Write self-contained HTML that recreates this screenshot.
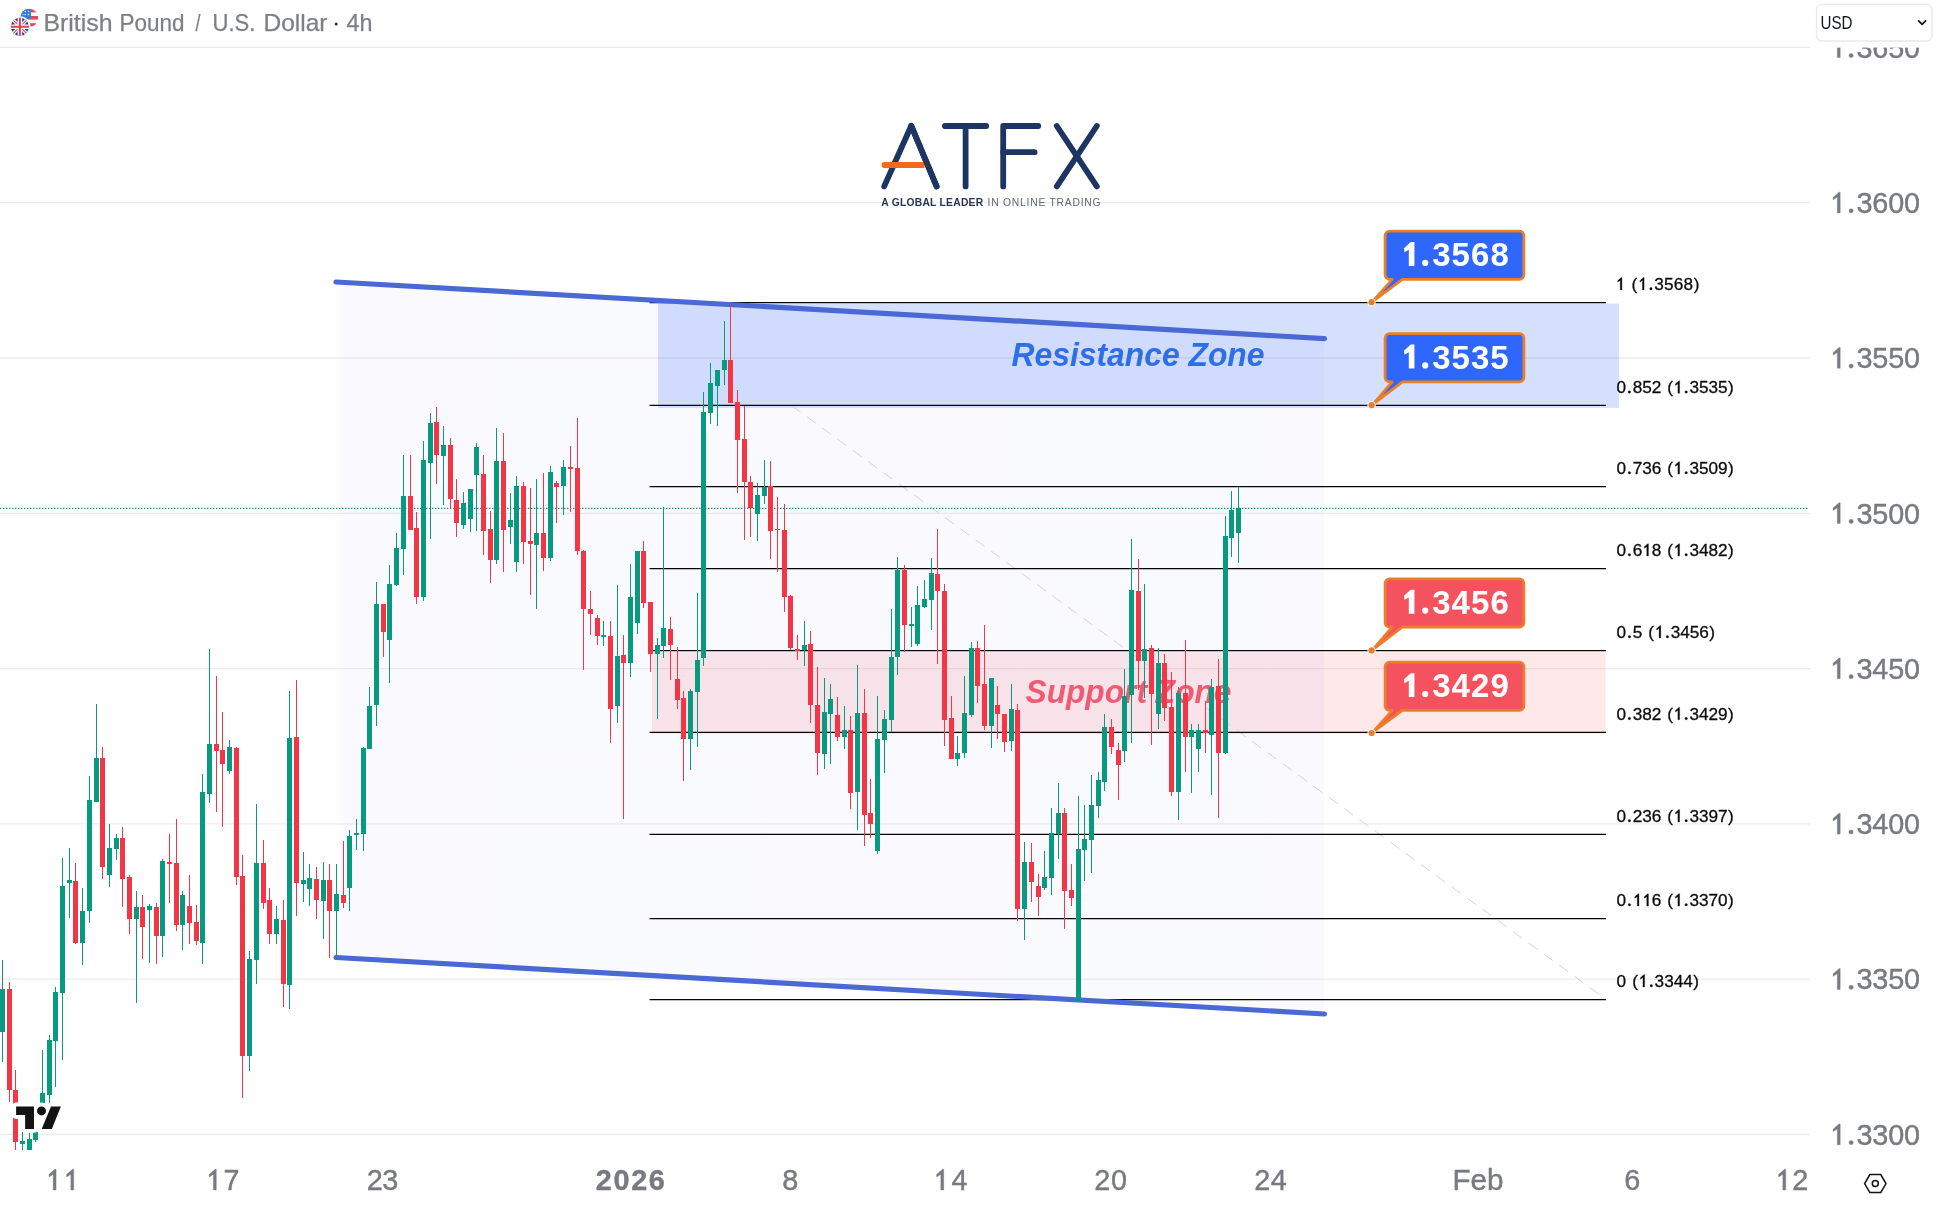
<!DOCTYPE html>
<html><head><meta charset="utf-8"><title>GBPUSD 4h</title>
<style>html,body{margin:0;padding:0;background:#fff;}body{width:1939px;height:1216px;overflow:hidden;font-family:'Liberation Sans', sans-serif;}svg{display:block;will-change:transform;}text{font-family:'Liberation Sans', sans-serif;}</style>
</head><body>
<svg width="1939" height="1216" viewBox="0 0 1939 1216">
<rect x="0" y="0" width="1939" height="1216" fill="#ffffff"/>
<g stroke="#ececec" stroke-width="1.3" fill="none">
<line x1="0" y1="47.4" x2="1810" y2="47.4"/>
<line x1="0" y1="202.7" x2="1810" y2="202.7"/>
<line x1="0" y1="358.0" x2="1810" y2="358.0"/>
<line x1="0" y1="513.3" x2="1810" y2="513.3"/>
<line x1="0" y1="668.6" x2="1810" y2="668.6"/>
<line x1="0" y1="823.9" x2="1810" y2="823.9"/>
<line x1="0" y1="979.2" x2="1810" y2="979.2"/>
<line x1="0" y1="1134.5" x2="1810" y2="1134.5"/>
</g>
<defs><linearGradient id="chg" gradientUnits="userSpaceOnUse" x1="334" y1="0" x2="347" y2="0"><stop offset="0" stop-color="#5a64e6" stop-opacity="0"/><stop offset="1" stop-color="#5a64e6" stop-opacity="0.036"/></linearGradient></defs>
<polygon points="334,281.9 1324,338.5 1324,1014 334,957.4" fill="url(#chg)"/>
<rect x="658" y="303.6" width="961" height="104.3" fill="#2962ff" fill-opacity="0.195"/>
<rect x="652" y="652.1" width="953.5" height="81.8" fill="#f23645" fill-opacity="0.113"/>
<line x1="791.5" y1="405.6" x2="1606" y2="999.3" stroke="#d4d4d6" stroke-width="1.0" stroke-dasharray="11 8"/>
<g stroke="#050505" stroke-width="1.25">
<line x1="649.6" y1="302.5" x2="1606" y2="302.5"/>
<line x1="649.6" y1="405.4" x2="1606" y2="405.4"/>
<line x1="649.6" y1="486.5" x2="1606" y2="486.5"/>
<line x1="649.6" y1="568.5" x2="1606" y2="568.5"/>
<line x1="649.6" y1="650.5" x2="1606" y2="650.5"/>
<line x1="649.6" y1="732.3" x2="1606" y2="732.3"/>
<line x1="649.6" y1="834.3" x2="1606" y2="834.3"/>
<line x1="649.6" y1="918.5" x2="1606" y2="918.5"/>
<line x1="649.6" y1="999.5" x2="1606" y2="999.5"/>
</g>
<g stroke="#0c0c0c" stroke-width="0.3" stroke-linejoin="round"><text x="1631.51 1654.37 1664.08 1673.80 1683.52 1693.70" y="289.9" font-size="17.2" fill="#0c0c0c">(3568)</text><path d="M1621.93,277.52 L1621.93,289.90 L1620.23,289.90 L1620.23,280.47 L1617.79,282.09 L1617.67,280.65 L1621.24,277.52Z M1644.10,277.52 L1644.10,289.90 L1642.40,289.90 L1642.40,280.47 L1639.96,282.09 L1639.84,280.65 L1643.42,277.52Z" fill="#0c0c0c"/><circle cx="1650.89" cy="288.64" r="1.26" fill="#0c0c0c"/></g>
<g stroke="#0c0c0c" stroke-width="0.3" stroke-linejoin="round"><text x="1616.56 1632.70 1642.19 1651.68 1667.19 1689.48 1698.97 1708.46 1717.96 1727.94" y="393.2" font-size="17.2" fill="#0c0c0c">0852(3535)</text><path d="M1679.60,380.82 L1679.60,393.20 L1677.90,393.20 L1677.90,383.77 L1675.46,385.39 L1675.34,383.95 L1678.92,380.82Z" fill="#0c0c0c"/><circle cx="1629.41" cy="391.94" r="1.26" fill="#0c0c0c"/><circle cx="1686.19" cy="391.94" r="1.26" fill="#0c0c0c"/></g>
<g stroke="#0c0c0c" stroke-width="0.3" stroke-linejoin="round"><text x="1616.56 1632.70 1642.19 1651.68 1667.19 1689.48 1698.97 1708.46 1717.96 1727.94" y="474.1" font-size="17.2" fill="#0c0c0c">0736(3509)</text><path d="M1679.60,461.72 L1679.60,474.10 L1677.90,474.10 L1677.90,464.67 L1675.46,466.29 L1675.34,464.85 L1678.92,461.72Z" fill="#0c0c0c"/><circle cx="1629.41" cy="472.84" r="1.26" fill="#0c0c0c"/><circle cx="1686.19" cy="472.84" r="1.26" fill="#0c0c0c"/></g>
<g stroke="#0c0c0c" stroke-width="0.3" stroke-linejoin="round"><text x="1616.56 1632.70 1651.68 1667.19 1689.48 1698.97 1708.46 1717.96 1727.94" y="556.1" font-size="17.2" fill="#0c0c0c">068(3482)</text><path d="M1648.45,543.72 L1648.45,556.10 L1646.75,556.10 L1646.75,546.67 L1644.31,548.29 L1644.19,546.85 L1647.77,543.72Z M1679.60,543.72 L1679.60,556.10 L1677.90,556.10 L1677.90,546.67 L1675.46,548.29 L1675.34,546.85 L1678.92,543.72Z" fill="#0c0c0c"/><circle cx="1629.41" cy="554.84" r="1.26" fill="#0c0c0c"/><circle cx="1686.19" cy="554.84" r="1.26" fill="#0c0c0c"/></g>
<g stroke="#0c0c0c" stroke-width="0.3" stroke-linejoin="round"><text x="1616.58 1632.79 1648.35 1670.74 1680.27 1689.80 1699.33 1709.35" y="637.9" font-size="17.2" fill="#0c0c0c">05(3456)</text><path d="M1660.80,625.52 L1660.80,637.90 L1659.09,637.90 L1659.09,628.47 L1656.65,630.09 L1656.53,628.65 L1660.11,625.52Z" fill="#0c0c0c"/><circle cx="1629.47" cy="636.64" r="1.26" fill="#0c0c0c"/><circle cx="1667.42" cy="636.64" r="1.26" fill="#0c0c0c"/></g>
<g stroke="#0c0c0c" stroke-width="0.3" stroke-linejoin="round"><text x="1616.56 1632.70 1642.19 1651.68 1667.19 1689.48 1698.97 1708.46 1717.96 1727.94" y="719.8" font-size="17.2" fill="#0c0c0c">0382(3429)</text><path d="M1679.60,707.42 L1679.60,719.80 L1677.90,719.80 L1677.90,710.37 L1675.46,711.99 L1675.34,710.55 L1678.92,707.42Z" fill="#0c0c0c"/><circle cx="1629.41" cy="718.54" r="1.26" fill="#0c0c0c"/><circle cx="1686.19" cy="718.54" r="1.26" fill="#0c0c0c"/></g>
<g stroke="#0c0c0c" stroke-width="0.3" stroke-linejoin="round"><text x="1616.56 1632.70 1642.19 1651.68 1667.19 1689.48 1698.97 1708.46 1717.96 1727.94" y="821.9" font-size="17.2" fill="#0c0c0c">0236(3397)</text><path d="M1679.60,809.52 L1679.60,821.90 L1677.90,821.90 L1677.90,812.47 L1675.46,814.09 L1675.34,812.65 L1678.92,809.52Z" fill="#0c0c0c"/><circle cx="1629.41" cy="820.64" r="1.26" fill="#0c0c0c"/><circle cx="1686.19" cy="820.64" r="1.26" fill="#0c0c0c"/></g>
<g stroke="#0c0c0c" stroke-width="0.3" stroke-linejoin="round"><text x="1616.56 1651.68 1667.19 1689.48 1698.97 1708.46 1717.96 1727.94" y="906.1" font-size="17.2" fill="#0c0c0c">06(3370)</text><path d="M1638.96,893.72 L1638.96,906.10 L1637.26,906.10 L1637.26,896.67 L1634.82,898.29 L1634.70,896.85 L1638.27,893.72Z M1648.45,893.72 L1648.45,906.10 L1646.75,906.10 L1646.75,896.67 L1644.31,898.29 L1644.19,896.85 L1647.77,893.72Z M1679.60,893.72 L1679.60,906.10 L1677.90,906.10 L1677.90,896.67 L1675.46,898.29 L1675.34,896.85 L1678.92,893.72Z" fill="#0c0c0c"/><circle cx="1629.41" cy="904.84" r="1.26" fill="#0c0c0c"/><circle cx="1686.19" cy="904.84" r="1.26" fill="#0c0c0c"/></g>
<g stroke="#0c0c0c" stroke-width="0.3" stroke-linejoin="round"><text x="1616.59 1632.19 1654.62 1664.17 1673.72 1683.27 1693.31" y="987.0" font-size="17.2" fill="#0c0c0c">0(3344)</text><path d="M1644.65,974.62 L1644.65,987.00 L1642.94,987.00 L1642.94,977.57 L1640.50,979.19 L1640.38,977.75 L1643.96,974.62Z" fill="#0c0c0c"/><circle cx="1651.29" cy="985.74" r="1.26" fill="#0c0c0c"/></g>
<g stroke="#4a69d4" stroke-width="5.2" stroke-linecap="round">
<line x1="336" y1="282" x2="1324.5" y2="338.6"/>
<line x1="336" y1="957.5" x2="1324.5" y2="1014"/>
</g>
<text x="1011.50" y="365.7" font-size="33" fill="#2c6fe9" textLength="253.00" lengthAdjust="spacingAndGlyphs" font-weight="bold" font-style="italic">Resistance Zone</text>
<text x="1025.50" y="702.5" font-size="33" fill="#ee4f68" textLength="206.00" lengthAdjust="spacingAndGlyphs" font-weight="bold" font-style="italic" fill-opacity="0.92">Support Zone</text>
<line x1="0" y1="508.4" x2="1808" y2="508.4" stroke="#2f8a78" stroke-width="1.4" stroke-dasharray="1.4 1.6"/>
<g shape-rendering="crispEdges">
<rect x="2" y="960.2" width="1" height="101.3" fill="#089981"/>
<rect x="0" y="988.9" width="5" height="42.9" fill="#089981"/>
<rect x="9" y="982.3" width="1" height="119.3" fill="#f23645"/>
<rect x="7" y="988.9" width="5" height="100.6" fill="#f23645"/>
<rect x="15" y="1070.2" width="1" height="79.8" fill="#f23645"/>
<rect x="13" y="1089.5" width="5" height="52.0" fill="#f23645"/>
<rect x="22" y="1132.0" width="1" height="17.8" fill="#089981"/>
<rect x="20" y="1141.2" width="5" height="2.3" fill="#089981"/>
<rect x="29" y="1132.0" width="1" height="17.8" fill="#089981"/>
<rect x="27" y="1139.0" width="5" height="10.8" fill="#089981"/>
<rect x="35" y="1132.0" width="1" height="9.5" fill="#089981"/>
<rect x="33" y="1132.0" width="5" height="7.9" fill="#089981"/>
<rect x="42" y="1050.3" width="1" height="81.7" fill="#089981"/>
<rect x="40" y="1092.8" width="5" height="39.2" fill="#089981"/>
<rect x="49" y="1035.1" width="1" height="68.5" fill="#089981"/>
<rect x="47" y="1040.0" width="5" height="54.5" fill="#089981"/>
<rect x="55" y="987.2" width="1" height="99.8" fill="#089981"/>
<rect x="53" y="992.2" width="5" height="48.7" fill="#089981"/>
<rect x="62" y="858.4" width="1" height="201.4" fill="#089981"/>
<rect x="60" y="886.1" width="5" height="106.6" fill="#089981"/>
<rect x="69" y="848.2" width="1" height="69.6" fill="#089981"/>
<rect x="67" y="879.8" width="5" height="3.3" fill="#089981"/>
<rect x="75" y="863.3" width="1" height="80.4" fill="#f23645"/>
<rect x="73" y="881.2" width="5" height="61.8" fill="#f23645"/>
<rect x="82" y="888.1" width="1" height="76.7" fill="#089981"/>
<rect x="80" y="911.2" width="5" height="31.3" fill="#089981"/>
<rect x="89" y="775.9" width="1" height="146.8" fill="#089981"/>
<rect x="87" y="800.2" width="5" height="110.7" fill="#089981"/>
<rect x="96" y="704.2" width="1" height="97.6" fill="#089981"/>
<rect x="94" y="758.1" width="5" height="43.7" fill="#089981"/>
<rect x="102" y="747.1" width="1" height="131.9" fill="#f23645"/>
<rect x="100" y="758.1" width="5" height="108.5" fill="#f23645"/>
<rect x="109" y="824.2" width="1" height="62.7" fill="#089981"/>
<rect x="107" y="848.2" width="5" height="26.7" fill="#089981"/>
<rect x="116" y="834.1" width="1" height="25.6" fill="#089981"/>
<rect x="114" y="838.1" width="5" height="10.4" fill="#089981"/>
<rect x="122" y="827.4" width="1" height="79.3" fill="#f23645"/>
<rect x="120" y="838.1" width="5" height="40.6" fill="#f23645"/>
<rect x="129" y="875.4" width="1" height="58.4" fill="#f23645"/>
<rect x="127" y="877.4" width="5" height="41.2" fill="#f23645"/>
<rect x="136" y="891.4" width="1" height="111.5" fill="#089981"/>
<rect x="134" y="907.1" width="5" height="11.5" fill="#089981"/>
<rect x="142" y="895.2" width="1" height="63.5" fill="#f23645"/>
<rect x="140" y="907.1" width="5" height="19.4" fill="#f23645"/>
<rect x="149" y="904.1" width="1" height="58.7" fill="#089981"/>
<rect x="147" y="906.2" width="5" height="3.3" fill="#089981"/>
<rect x="156" y="903.4" width="1" height="60.3" fill="#f23645"/>
<rect x="154" y="907.1" width="5" height="28.5" fill="#f23645"/>
<rect x="162" y="859.2" width="1" height="97.7" fill="#089981"/>
<rect x="160" y="860.9" width="5" height="74.7" fill="#089981"/>
<rect x="169" y="834.1" width="1" height="68.8" fill="#f23645"/>
<rect x="167" y="862.0" width="5" height="1.8" fill="#f23645"/>
<rect x="176" y="819.3" width="1" height="111.4" fill="#f23645"/>
<rect x="174" y="863.3" width="5" height="61.6" fill="#f23645"/>
<rect x="182" y="891.4" width="1" height="58.2" fill="#089981"/>
<rect x="180" y="895.2" width="5" height="29.7" fill="#089981"/>
<rect x="189" y="875.4" width="1" height="68.5" fill="#f23645"/>
<rect x="187" y="906.2" width="5" height="16.5" fill="#f23645"/>
<rect x="196" y="905.1" width="1" height="39.6" fill="#f23645"/>
<rect x="194" y="922.2" width="5" height="18.4" fill="#f23645"/>
<rect x="202" y="774.3" width="1" height="189.4" fill="#089981"/>
<rect x="200" y="792.1" width="5" height="150.8" fill="#089981"/>
<rect x="209" y="648.9" width="1" height="153.9" fill="#089981"/>
<rect x="207" y="744.1" width="5" height="49.7" fill="#089981"/>
<rect x="216" y="676.1" width="1" height="135.6" fill="#f23645"/>
<rect x="214" y="744.1" width="5" height="6.8" fill="#f23645"/>
<rect x="222" y="712.1" width="1" height="114.6" fill="#f23645"/>
<rect x="220" y="750.0" width="5" height="13.9" fill="#f23645"/>
<rect x="229" y="740.1" width="1" height="33.7" fill="#089981"/>
<rect x="227" y="747.1" width="5" height="23.6" fill="#089981"/>
<rect x="236" y="747.1" width="1" height="137.7" fill="#f23645"/>
<rect x="234" y="748.2" width="5" height="128.3" fill="#f23645"/>
<rect x="242" y="855.1" width="1" height="242.7" fill="#f23645"/>
<rect x="240" y="876.2" width="5" height="179.5" fill="#f23645"/>
<rect x="249" y="951.3" width="1" height="119.6" fill="#089981"/>
<rect x="247" y="959.0" width="5" height="96.7" fill="#089981"/>
<rect x="256" y="804.3" width="1" height="179.6" fill="#089981"/>
<rect x="254" y="863.0" width="5" height="96.5" fill="#089981"/>
<rect x="263" y="840.2" width="1" height="68.5" fill="#f23645"/>
<rect x="261" y="863.0" width="5" height="39.9" fill="#f23645"/>
<rect x="269" y="888.1" width="1" height="55.8" fill="#f23645"/>
<rect x="267" y="900.1" width="5" height="33.7" fill="#f23645"/>
<rect x="276" y="906.2" width="1" height="37.7" fill="#089981"/>
<rect x="274" y="919.1" width="5" height="14.7" fill="#089981"/>
<rect x="283" y="900.1" width="1" height="106.9" fill="#f23645"/>
<rect x="281" y="919.9" width="5" height="64.0" fill="#f23645"/>
<rect x="289" y="691.0" width="1" height="317.7" fill="#089981"/>
<rect x="287" y="738.0" width="5" height="247.1" fill="#089981"/>
<rect x="296" y="680.2" width="1" height="235.6" fill="#f23645"/>
<rect x="294" y="737.2" width="5" height="145.6" fill="#f23645"/>
<rect x="303" y="852.1" width="1" height="49.7" fill="#089981"/>
<rect x="301" y="879.8" width="5" height="4.2" fill="#089981"/>
<rect x="309" y="864.2" width="1" height="41.7" fill="#089981"/>
<rect x="307" y="878.2" width="5" height="10.7" fill="#089981"/>
<rect x="316" y="867.1" width="1" height="51.8" fill="#f23645"/>
<rect x="314" y="879.0" width="5" height="20.6" fill="#f23645"/>
<rect x="323" y="862.0" width="1" height="76.7" fill="#089981"/>
<rect x="321" y="879.8" width="5" height="20.7" fill="#089981"/>
<rect x="329" y="864.2" width="1" height="93.7" fill="#f23645"/>
<rect x="327" y="879.8" width="5" height="31.1" fill="#f23645"/>
<rect x="336" y="864.2" width="1" height="90.8" fill="#089981"/>
<rect x="334" y="893.9" width="5" height="17.0" fill="#089981"/>
<rect x="343" y="841.1" width="1" height="66.8" fill="#f23645"/>
<rect x="341" y="895.2" width="5" height="7.4" fill="#f23645"/>
<rect x="349" y="830.0" width="1" height="80.9" fill="#089981"/>
<rect x="347" y="836.1" width="5" height="51.7" fill="#089981"/>
<rect x="356" y="819.3" width="1" height="30.5" fill="#089981"/>
<rect x="354" y="832.8" width="5" height="2.2" fill="#089981"/>
<rect x="363" y="747.0" width="1" height="104.0" fill="#089981"/>
<rect x="361" y="748.0" width="5" height="85.6" fill="#089981"/>
<rect x="369" y="687.3" width="1" height="61.3" fill="#089981"/>
<rect x="367" y="706.2" width="5" height="42.4" fill="#089981"/>
<rect x="376" y="582.1" width="1" height="143.6" fill="#089981"/>
<rect x="374" y="604.3" width="5" height="100.3" fill="#089981"/>
<rect x="383" y="604.3" width="1" height="52.4" fill="#f23645"/>
<rect x="381" y="604.3" width="5" height="27.4" fill="#f23645"/>
<rect x="389" y="565.4" width="1" height="117.4" fill="#089981"/>
<rect x="387" y="584.4" width="5" height="55.3" fill="#089981"/>
<rect x="396" y="533.2" width="1" height="52.6" fill="#089981"/>
<rect x="394" y="548.1" width="5" height="36.6" fill="#089981"/>
<rect x="403" y="455.2" width="1" height="119.3" fill="#089981"/>
<rect x="401" y="496.1" width="5" height="52.6" fill="#089981"/>
<rect x="410" y="455.2" width="1" height="74.7" fill="#f23645"/>
<rect x="408" y="496.1" width="5" height="33.8" fill="#f23645"/>
<rect x="416" y="512.4" width="1" height="91.5" fill="#f23645"/>
<rect x="414" y="528.3" width="5" height="68.2" fill="#f23645"/>
<rect x="423" y="441.2" width="1" height="159.4" fill="#089981"/>
<rect x="421" y="460.1" width="5" height="136.4" fill="#089981"/>
<rect x="430" y="413.1" width="1" height="125.7" fill="#089981"/>
<rect x="428" y="423.0" width="5" height="39.6" fill="#089981"/>
<rect x="436" y="407.0" width="1" height="76.7" fill="#f23645"/>
<rect x="434" y="422.2" width="5" height="32.5" fill="#f23645"/>
<rect x="443" y="426.0" width="1" height="78.7" fill="#089981"/>
<rect x="441" y="445.3" width="5" height="10.4" fill="#089981"/>
<rect x="450" y="438.2" width="1" height="70.9" fill="#f23645"/>
<rect x="448" y="445.3" width="5" height="54.1" fill="#f23645"/>
<rect x="456" y="479.4" width="1" height="58.0" fill="#f23645"/>
<rect x="454" y="500.2" width="5" height="22.3" fill="#f23645"/>
<rect x="463" y="492.3" width="1" height="37.1" fill="#089981"/>
<rect x="461" y="503.2" width="5" height="21.3" fill="#089981"/>
<rect x="470" y="489.0" width="1" height="43.4" fill="#089981"/>
<rect x="468" y="489.0" width="5" height="29.7" fill="#089981"/>
<rect x="476" y="443.1" width="1" height="87.7" fill="#089981"/>
<rect x="474" y="447.3" width="5" height="27.4" fill="#089981"/>
<rect x="483" y="455.2" width="1" height="99.5" fill="#f23645"/>
<rect x="481" y="474.2" width="5" height="56.4" fill="#f23645"/>
<rect x="490" y="511.3" width="1" height="71.3" fill="#f23645"/>
<rect x="488" y="529.1" width="5" height="30.5" fill="#f23645"/>
<rect x="496" y="428.3" width="1" height="135.3" fill="#089981"/>
<rect x="494" y="461.0" width="5" height="98.6" fill="#089981"/>
<rect x="503" y="433.2" width="1" height="138.3" fill="#f23645"/>
<rect x="501" y="461.0" width="5" height="68.8" fill="#f23645"/>
<rect x="510" y="493.1" width="1" height="50.7" fill="#089981"/>
<rect x="508" y="520.4" width="5" height="6.2" fill="#089981"/>
<rect x="516" y="476.1" width="1" height="95.4" fill="#089981"/>
<rect x="514" y="486.2" width="5" height="75.4" fill="#089981"/>
<rect x="523" y="482.1" width="1" height="81.5" fill="#f23645"/>
<rect x="521" y="486.2" width="5" height="55.3" fill="#f23645"/>
<rect x="530" y="488.2" width="1" height="106.3" fill="#f23645"/>
<rect x="528" y="541.0" width="5" height="2.8" fill="#f23645"/>
<rect x="536" y="479.1" width="1" height="129.8" fill="#089981"/>
<rect x="534" y="533.2" width="5" height="11.4" fill="#089981"/>
<rect x="543" y="473.3" width="1" height="97.4" fill="#f23645"/>
<rect x="541" y="533.2" width="5" height="24.6" fill="#f23645"/>
<rect x="550" y="466.2" width="1" height="94.3" fill="#089981"/>
<rect x="548" y="472.0" width="5" height="85.8" fill="#089981"/>
<rect x="556" y="481.1" width="1" height="41.4" fill="#f23645"/>
<rect x="554" y="483.2" width="5" height="3.3" fill="#f23645"/>
<rect x="563" y="460.1" width="1" height="54.5" fill="#089981"/>
<rect x="561" y="467.1" width="5" height="18.6" fill="#089981"/>
<rect x="570" y="446.1" width="1" height="66.3" fill="#f23645"/>
<rect x="568" y="467.1" width="5" height="1.6" fill="#f23645"/>
<rect x="577" y="418.4" width="1" height="136.1" fill="#f23645"/>
<rect x="575" y="468.1" width="5" height="82.5" fill="#f23645"/>
<rect x="583" y="550.0" width="1" height="119.9" fill="#f23645"/>
<rect x="581" y="550.9" width="5" height="58.0" fill="#f23645"/>
<rect x="590" y="591.2" width="1" height="43.3" fill="#f23645"/>
<rect x="588" y="609.2" width="5" height="4.6" fill="#f23645"/>
<rect x="597" y="615.1" width="1" height="29.8" fill="#f23645"/>
<rect x="595" y="618.0" width="5" height="17.8" fill="#f23645"/>
<rect x="603" y="620.9" width="1" height="24.8" fill="#089981"/>
<rect x="601" y="635.0" width="5" height="1.6" fill="#089981"/>
<rect x="610" y="621.3" width="1" height="121.7" fill="#f23645"/>
<rect x="608" y="636.1" width="5" height="72.6" fill="#f23645"/>
<rect x="617" y="585.0" width="1" height="137.7" fill="#089981"/>
<rect x="615" y="656.2" width="5" height="49.5" fill="#089981"/>
<rect x="623" y="635.3" width="1" height="183.5" fill="#f23645"/>
<rect x="621" y="655.1" width="5" height="7.7" fill="#f23645"/>
<rect x="630" y="564.1" width="1" height="112.6" fill="#089981"/>
<rect x="628" y="597.1" width="5" height="65.7" fill="#089981"/>
<rect x="637" y="550.9" width="1" height="83.0" fill="#089981"/>
<rect x="635" y="550.9" width="5" height="71.7" fill="#089981"/>
<rect x="643" y="541.3" width="1" height="66.5" fill="#f23645"/>
<rect x="641" y="550.9" width="5" height="51.6" fill="#f23645"/>
<rect x="650" y="602.0" width="1" height="69.8" fill="#f23645"/>
<rect x="648" y="602.0" width="5" height="51.7" fill="#f23645"/>
<rect x="657" y="638.3" width="1" height="80.7" fill="#089981"/>
<rect x="655" y="645.2" width="5" height="8.5" fill="#089981"/>
<rect x="663" y="507.1" width="1" height="150.7" fill="#089981"/>
<rect x="661" y="628.1" width="5" height="17.6" fill="#089981"/>
<rect x="670" y="616.9" width="1" height="62.8" fill="#f23645"/>
<rect x="668" y="628.9" width="5" height="16.0" fill="#f23645"/>
<rect x="677" y="647.1" width="1" height="61.5" fill="#f23645"/>
<rect x="675" y="679.2" width="5" height="20.3" fill="#f23645"/>
<rect x="683" y="691.3" width="1" height="89.6" fill="#f23645"/>
<rect x="681" y="698.2" width="5" height="40.6" fill="#f23645"/>
<rect x="690" y="689.3" width="1" height="80.3" fill="#089981"/>
<rect x="688" y="690.9" width="5" height="47.9" fill="#089981"/>
<rect x="697" y="592.9" width="1" height="153.6" fill="#089981"/>
<rect x="695" y="660.2" width="5" height="31.5" fill="#089981"/>
<rect x="703" y="392.3" width="1" height="273.6" fill="#089981"/>
<rect x="701" y="412.1" width="5" height="245.7" fill="#089981"/>
<rect x="710" y="363.1" width="1" height="60.6" fill="#089981"/>
<rect x="708" y="383.2" width="5" height="29.7" fill="#089981"/>
<rect x="717" y="370.0" width="1" height="55.8" fill="#089981"/>
<rect x="715" y="370.0" width="5" height="15.7" fill="#089981"/>
<rect x="724" y="321.0" width="1" height="63.9" fill="#089981"/>
<rect x="722" y="360.1" width="5" height="9.9" fill="#089981"/>
<rect x="730" y="304.0" width="1" height="98.7" fill="#f23645"/>
<rect x="728" y="360.1" width="5" height="42.6" fill="#f23645"/>
<rect x="737" y="390.2" width="1" height="102.6" fill="#f23645"/>
<rect x="735" y="402.2" width="5" height="37.6" fill="#f23645"/>
<rect x="744" y="405.5" width="1" height="134.3" fill="#f23645"/>
<rect x="742" y="439.0" width="5" height="42.9" fill="#f23645"/>
<rect x="750" y="476.1" width="1" height="60.7" fill="#f23645"/>
<rect x="748" y="481.9" width="5" height="26.4" fill="#f23645"/>
<rect x="757" y="483.0" width="1" height="58.0" fill="#089981"/>
<rect x="755" y="495.1" width="5" height="18.6" fill="#089981"/>
<rect x="764" y="460.0" width="1" height="43.8" fill="#089981"/>
<rect x="762" y="486.5" width="5" height="9.1" fill="#089981"/>
<rect x="770" y="461.3" width="1" height="97.8" fill="#f23645"/>
<rect x="768" y="486.2" width="5" height="44.5" fill="#f23645"/>
<rect x="777" y="497.2" width="1" height="74.6" fill="#f23645"/>
<rect x="775" y="528.6" width="5" height="1.6" fill="#f23645"/>
<rect x="784" y="504.3" width="1" height="107.3" fill="#f23645"/>
<rect x="782" y="530.2" width="5" height="66.5" fill="#f23645"/>
<rect x="790" y="595.0" width="1" height="54.9" fill="#f23645"/>
<rect x="788" y="596.2" width="5" height="52.0" fill="#f23645"/>
<rect x="797" y="635.0" width="1" height="24.7" fill="#f23645"/>
<rect x="795" y="649.0" width="5" height="1.6" fill="#f23645"/>
<rect x="804" y="621.0" width="1" height="44.8" fill="#089981"/>
<rect x="802" y="645.2" width="5" height="5.0" fill="#089981"/>
<rect x="810" y="631.2" width="1" height="92.2" fill="#f23645"/>
<rect x="808" y="644.1" width="5" height="60.7" fill="#f23645"/>
<rect x="817" y="667.3" width="1" height="107.6" fill="#f23645"/>
<rect x="815" y="705.3" width="5" height="47.5" fill="#f23645"/>
<rect x="824" y="678.1" width="1" height="90.7" fill="#089981"/>
<rect x="822" y="712.2" width="5" height="41.4" fill="#089981"/>
<rect x="830" y="684.2" width="1" height="79.7" fill="#089981"/>
<rect x="828" y="699.0" width="5" height="14.5" fill="#089981"/>
<rect x="837" y="697.0" width="1" height="43.8" fill="#f23645"/>
<rect x="835" y="715.2" width="5" height="21.4" fill="#f23645"/>
<rect x="844" y="706.1" width="1" height="42.6" fill="#089981"/>
<rect x="842" y="730.4" width="5" height="6.2" fill="#089981"/>
<rect x="850" y="716.0" width="1" height="92.8" fill="#f23645"/>
<rect x="848" y="730.4" width="5" height="62.1" fill="#f23645"/>
<rect x="857" y="665.1" width="1" height="164.6" fill="#089981"/>
<rect x="855" y="713.0" width="5" height="78.6" fill="#089981"/>
<rect x="864" y="689.1" width="1" height="156.5" fill="#f23645"/>
<rect x="862" y="713.0" width="5" height="101.6" fill="#f23645"/>
<rect x="870" y="779.2" width="1" height="58.3" fill="#f23645"/>
<rect x="868" y="813.2" width="5" height="10.4" fill="#f23645"/>
<rect x="877" y="696.2" width="1" height="157.6" fill="#089981"/>
<rect x="875" y="739.1" width="5" height="111.9" fill="#089981"/>
<rect x="884" y="710.2" width="1" height="62.7" fill="#089981"/>
<rect x="882" y="719.3" width="5" height="20.6" fill="#089981"/>
<rect x="891" y="609.1" width="1" height="122.9" fill="#089981"/>
<rect x="889" y="657.2" width="5" height="62.4" fill="#089981"/>
<rect x="897" y="557.1" width="1" height="117.7" fill="#089981"/>
<rect x="895" y="570.2" width="5" height="86.3" fill="#089981"/>
<rect x="904" y="565.2" width="1" height="86.3" fill="#f23645"/>
<rect x="902" y="570.2" width="5" height="54.4" fill="#f23645"/>
<rect x="911" y="607.3" width="1" height="39.6" fill="#089981"/>
<rect x="909" y="624.0" width="5" height="1.6" fill="#089981"/>
<rect x="917" y="586.3" width="1" height="59.4" fill="#089981"/>
<rect x="915" y="605.3" width="5" height="38.8" fill="#089981"/>
<rect x="924" y="580.2" width="1" height="27.6" fill="#089981"/>
<rect x="922" y="599.2" width="5" height="7.4" fill="#089981"/>
<rect x="931" y="558.3" width="1" height="71.4" fill="#089981"/>
<rect x="929" y="573.1" width="5" height="26.4" fill="#089981"/>
<rect x="937" y="529.1" width="1" height="134.5" fill="#f23645"/>
<rect x="935" y="574.3" width="5" height="16.5" fill="#f23645"/>
<rect x="944" y="584.2" width="1" height="161.5" fill="#f23645"/>
<rect x="942" y="591.3" width="5" height="128.3" fill="#f23645"/>
<rect x="951" y="696.2" width="1" height="62.4" fill="#f23645"/>
<rect x="949" y="718.2" width="5" height="40.4" fill="#f23645"/>
<rect x="957" y="736.1" width="1" height="29.4" fill="#089981"/>
<rect x="955" y="753.1" width="5" height="5.5" fill="#089981"/>
<rect x="964" y="676.1" width="1" height="81.5" fill="#089981"/>
<rect x="962" y="713.0" width="5" height="39.6" fill="#089981"/>
<rect x="971" y="642.1" width="1" height="75.2" fill="#089981"/>
<rect x="969" y="648.2" width="5" height="66.5" fill="#089981"/>
<rect x="977" y="641.3" width="1" height="61.5" fill="#f23645"/>
<rect x="975" y="648.2" width="5" height="37.3" fill="#f23645"/>
<rect x="984" y="625.1" width="1" height="104.6" fill="#f23645"/>
<rect x="982" y="684.3" width="5" height="41.6" fill="#f23645"/>
<rect x="991" y="678.1" width="1" height="69.6" fill="#089981"/>
<rect x="989" y="678.1" width="5" height="47.8" fill="#089981"/>
<rect x="997" y="686.0" width="1" height="52.8" fill="#f23645"/>
<rect x="995" y="705.3" width="5" height="8.2" fill="#f23645"/>
<rect x="1004" y="714.0" width="1" height="37.8" fill="#f23645"/>
<rect x="1002" y="714.0" width="5" height="27.6" fill="#f23645"/>
<rect x="1011" y="684.2" width="1" height="66.5" fill="#089981"/>
<rect x="1009" y="709.1" width="5" height="31.7" fill="#089981"/>
<rect x="1017" y="704.1" width="1" height="216.7" fill="#f23645"/>
<rect x="1015" y="710.2" width="5" height="198.5" fill="#f23645"/>
<rect x="1024" y="842.2" width="1" height="97.5" fill="#089981"/>
<rect x="1022" y="862.0" width="5" height="46.7" fill="#089981"/>
<rect x="1031" y="843.2" width="1" height="58.6" fill="#f23645"/>
<rect x="1029" y="862.0" width="5" height="19.8" fill="#f23645"/>
<rect x="1038" y="874.1" width="1" height="41.7" fill="#f23645"/>
<rect x="1036" y="886.1" width="5" height="10.6" fill="#f23645"/>
<rect x="1044" y="851.0" width="1" height="38.7" fill="#089981"/>
<rect x="1042" y="877.0" width="5" height="10.8" fill="#089981"/>
<rect x="1051" y="808.1" width="1" height="86.6" fill="#089981"/>
<rect x="1049" y="833.1" width="5" height="44.6" fill="#089981"/>
<rect x="1058" y="783.3" width="1" height="75.6" fill="#089981"/>
<rect x="1056" y="813.0" width="5" height="21.1" fill="#089981"/>
<rect x="1064" y="808.1" width="1" height="120.4" fill="#f23645"/>
<rect x="1062" y="813.0" width="5" height="77.6" fill="#f23645"/>
<rect x="1071" y="864.2" width="1" height="41.5" fill="#f23645"/>
<rect x="1069" y="890.1" width="5" height="7.6" fill="#f23645"/>
<rect x="1078" y="796.2" width="1" height="205.3" fill="#089981"/>
<rect x="1076" y="849.3" width="5" height="152.2" fill="#089981"/>
<rect x="1084" y="805.1" width="1" height="75.6" fill="#089981"/>
<rect x="1082" y="839.1" width="5" height="10.5" fill="#089981"/>
<rect x="1091" y="775.4" width="1" height="97.3" fill="#089981"/>
<rect x="1089" y="805.1" width="5" height="34.6" fill="#089981"/>
<rect x="1098" y="772.1" width="1" height="45.7" fill="#089981"/>
<rect x="1096" y="780.4" width="5" height="25.2" fill="#089981"/>
<rect x="1104" y="714.0" width="1" height="76.8" fill="#089981"/>
<rect x="1102" y="727.1" width="5" height="54.6" fill="#089981"/>
<rect x="1111" y="719.3" width="1" height="34.3" fill="#f23645"/>
<rect x="1109" y="727.1" width="5" height="19.8" fill="#f23645"/>
<rect x="1118" y="743.2" width="1" height="56.6" fill="#f23645"/>
<rect x="1116" y="750.2" width="5" height="14.5" fill="#f23645"/>
<rect x="1124" y="669.0" width="1" height="92.9" fill="#089981"/>
<rect x="1122" y="696.2" width="5" height="54.5" fill="#089981"/>
<rect x="1131" y="539.3" width="1" height="203.4" fill="#089981"/>
<rect x="1129" y="590.1" width="5" height="105.3" fill="#089981"/>
<rect x="1138" y="559.1" width="1" height="130.5" fill="#f23645"/>
<rect x="1136" y="591.3" width="5" height="69.4" fill="#f23645"/>
<rect x="1144" y="584.2" width="1" height="113.7" fill="#089981"/>
<rect x="1142" y="649.0" width="5" height="11.7" fill="#089981"/>
<rect x="1151" y="645.2" width="1" height="99.7" fill="#f23645"/>
<rect x="1149" y="648.2" width="5" height="45.5" fill="#f23645"/>
<rect x="1158" y="648.2" width="1" height="80.7" fill="#089981"/>
<rect x="1156" y="663.2" width="5" height="50.3" fill="#089981"/>
<rect x="1164" y="654.1" width="1" height="66.9" fill="#f23645"/>
<rect x="1162" y="663.2" width="5" height="44.6" fill="#f23645"/>
<rect x="1171" y="672.3" width="1" height="123.7" fill="#f23645"/>
<rect x="1169" y="707.3" width="5" height="84.3" fill="#f23645"/>
<rect x="1178" y="687.1" width="1" height="132.5" fill="#089981"/>
<rect x="1176" y="693.2" width="5" height="98.4" fill="#089981"/>
<rect x="1185" y="640.0" width="1" height="131.8" fill="#f23645"/>
<rect x="1183" y="693.2" width="5" height="43.4" fill="#f23645"/>
<rect x="1191" y="724.3" width="1" height="68.4" fill="#089981"/>
<rect x="1189" y="730.0" width="5" height="6.6" fill="#089981"/>
<rect x="1198" y="724.3" width="1" height="47.5" fill="#089981"/>
<rect x="1196" y="730.0" width="5" height="18.7" fill="#089981"/>
<rect x="1205" y="701.2" width="1" height="51.4" fill="#f23645"/>
<rect x="1203" y="730.4" width="5" height="2.9" fill="#f23645"/>
<rect x="1211" y="679.4" width="1" height="115.5" fill="#089981"/>
<rect x="1209" y="687.1" width="5" height="47.6" fill="#089981"/>
<rect x="1218" y="659.1" width="1" height="158.9" fill="#f23645"/>
<rect x="1216" y="686.3" width="5" height="66.3" fill="#f23645"/>
<rect x="1225" y="516.2" width="1" height="237.8" fill="#089981"/>
<rect x="1223" y="536.0" width="5" height="217.1" fill="#089981"/>
<rect x="1231" y="491.1" width="1" height="65.5" fill="#089981"/>
<rect x="1229" y="510.1" width="5" height="27.6" fill="#089981"/>
<rect x="1238" y="487.0" width="1" height="75.7" fill="#089981"/>
<rect x="1236" y="508.3" width="5" height="24.4" fill="#089981"/>
</g>
<path d="M1389.6,231.1 H1519.4 A4.5,4.5 0 0 1 1523.9,235.6 V274.8 A4.5,4.5 0 0 1 1519.4,279.3 H1402.4 L1372.8,301.4 L1392.2,279.3 H1389.6 A4.5,4.5 0 0 1 1385.1,274.8 V235.6 A4.5,4.5 0 0 1 1389.6,231.1 Z" fill="#2f66fb" stroke="#ec7e2a" stroke-width="2.8" stroke-linejoin="round"/>
<circle cx="1371.6" cy="302.2" r="4.2" fill="#ffffff" fill-opacity="0.85"/>
<circle cx="1371.6" cy="302.2" r="3.1" fill="#ec7e2a"/>
<text x="1432.16 1451.57 1470.99 1490.40" y="266.0" font-size="33" fill="#ffffff" font-weight="bold">3568</text><path d="M1414.42,242.11 L1414.42,266.00 L1408.81,266.00 L1408.81,249.70 L1404.49,252.17 L1404.03,248.15 L1410.69,242.11Z" fill="#ffffff"/><circle cx="1425.22" cy="262.90" r="3.10" fill="#ffffff"/>
<path d="M1389.6,333.6 H1519.4 A4.5,4.5 0 0 1 1523.9,338.1 V377.3 A4.5,4.5 0 0 1 1519.4,381.8 H1402.4 L1372.8,404.4 L1392.2,381.8 H1389.6 A4.5,4.5 0 0 1 1385.1,377.3 V338.1 A4.5,4.5 0 0 1 1389.6,333.6 Z" fill="#2f66fb" stroke="#ec7e2a" stroke-width="2.8" stroke-linejoin="round"/>
<circle cx="1371.6" cy="405.2" r="4.2" fill="#ffffff" fill-opacity="0.85"/>
<circle cx="1371.6" cy="405.2" r="3.1" fill="#ec7e2a"/>
<text x="1432.13 1451.54 1470.94 1490.35" y="368.5" font-size="33" fill="#ffffff" font-weight="bold">3535</text><path d="M1414.41,344.61 L1414.41,368.50 L1408.80,368.50 L1408.80,352.20 L1404.48,354.67 L1404.02,350.65 L1410.69,344.61Z" fill="#ffffff"/><circle cx="1425.21" cy="365.40" r="3.10" fill="#ffffff"/>
<path d="M1389.6,578.8 H1519.4 A4.5,4.5 0 0 1 1523.9,583.3 V622.5 A4.5,4.5 0 0 1 1519.4,627.0 H1402.4 L1372.8,649.6 L1392.2,627.0 H1389.6 A4.5,4.5 0 0 1 1385.1,622.5 V583.3 A4.5,4.5 0 0 1 1389.6,578.8 Z" fill="#f5525f" stroke="#ec7e2a" stroke-width="2.8" stroke-linejoin="round"/>
<circle cx="1371.6" cy="650.4" r="4.2" fill="#ffffff" fill-opacity="0.85"/>
<circle cx="1371.6" cy="650.4" r="3.1" fill="#ec7e2a"/>
<text x="1432.16 1451.57 1470.99 1490.40" y="613.7" font-size="33" fill="#ffffff" font-weight="bold">3456</text><path d="M1414.42,589.81 L1414.42,613.70 L1408.81,613.70 L1408.81,597.40 L1404.49,599.87 L1404.03,595.85 L1410.69,589.81Z" fill="#ffffff"/><circle cx="1425.22" cy="610.60" r="3.10" fill="#ffffff"/>
<path d="M1389.6,662.2 H1519.4 A4.5,4.5 0 0 1 1523.9,666.7 V705.9 A4.5,4.5 0 0 1 1519.4,710.4 H1402.4 L1372.8,732.2 L1392.2,710.4 H1389.6 A4.5,4.5 0 0 1 1385.1,705.9 V666.7 A4.5,4.5 0 0 1 1389.6,662.2 Z" fill="#f5525f" stroke="#ec7e2a" stroke-width="2.8" stroke-linejoin="round"/>
<circle cx="1371.6" cy="733.0" r="4.2" fill="#ffffff" fill-opacity="0.85"/>
<circle cx="1371.6" cy="733.0" r="3.1" fill="#ec7e2a"/>
<text x="1432.16 1451.57 1470.99 1490.40" y="697.1" font-size="33" fill="#ffffff" font-weight="bold">3429</text><path d="M1414.42,673.21 L1414.42,697.10 L1408.81,697.10 L1408.81,680.80 L1404.49,683.27 L1404.03,679.25 L1410.69,673.21Z" fill="#ffffff"/><circle cx="1425.22" cy="694.00" r="3.10" fill="#ffffff"/>
<g fill="none" stroke="#1c3563" stroke-width="5.8" stroke-linecap="round" stroke-linejoin="round">
<polyline points="884.2,186.4 911.3,125.8 936.6,186.4"/>
<line x1="944.9" y1="126" x2="986.2" y2="126"/><line x1="965.6" y1="126" x2="965.6" y2="186.4"/>
<polyline points="1038.2,126 1003.2,126 1003.2,186.4"/><line x1="1003.2" y1="152.2" x2="1034.6" y2="152.2"/>
<line x1="1056.8" y1="126" x2="1096.8" y2="186.4"/><line x1="1096.8" y1="126" x2="1056.8" y2="186.4"/>
</g>
<line x1="884.5" y1="165" x2="921.5" y2="165" stroke="#f26a22" stroke-width="5.8" stroke-linecap="round"/>
<line x1="918" y1="165" x2="924.6" y2="165" stroke="#f26a22" stroke-width="5.8"/>
<line x1="911.3" y1="125.8" x2="936.6" y2="186.4" stroke="#1c3563" stroke-width="5.8" stroke-linecap="round"/>
<text x="881.30" y="205.9" font-size="10.3" fill="#26365a" textLength="101.80" lengthAdjust="spacing" font-weight="bold">A GLOBAL LEADER</text>
<text x="987.50" y="205.9" font-size="10.3" fill="#5f6779" textLength="113.00" lengthAdjust="spacing">IN ONLINE TRADING</text>
<rect x="35" y="1103.5" width="11.5" height="28" fill="#ffffff"/>
<g stroke="#ffffff" stroke-width="7.6" stroke-linejoin="round" fill="#ffffff">
<path d="M16.1,1106.4 H34 V1128.9 H25.1 V1115.1 H16.1 Z"/><circle cx="41.5" cy="1110.9" r="4.5"/><path d="M51,1106.4 H60.9 L51.8,1128.9 H41.7 Z"/>
</g>
<g fill="#131313">
<path d="M16.1,1106.4 H34 V1128.9 H25.1 V1115.1 H16.1 Z"/><circle cx="41.5" cy="1110.9" r="4.5"/><path d="M51,1106.4 H60.9 L51.8,1128.9 H41.7 Z"/>
</g>
<g stroke="#787a81" stroke-width="0.4" stroke-linejoin="round"><text x="1856.56 1872.36 1888.16 1903.96" y="57.6" font-size="28.8" fill="#787a81">3650</text><path d="M1840.18,36.86 L1840.18,57.60 L1837.33,57.60 L1837.33,41.82 L1833.24,44.52 L1833.04,42.11 L1839.03,36.86Z" fill="#787a81"/><circle cx="1851.13" cy="55.50" r="2.10" fill="#787a81"/></g>
<g stroke="#787a81" stroke-width="0.4" stroke-linejoin="round"><text x="1856.56 1872.36 1888.16 1903.96" y="212.9" font-size="28.8" fill="#787a81">3600</text><path d="M1840.18,192.16 L1840.18,212.90 L1837.33,212.90 L1837.33,197.12 L1833.24,199.82 L1833.04,197.41 L1839.03,192.16Z" fill="#787a81"/><circle cx="1851.13" cy="210.80" r="2.10" fill="#787a81"/></g>
<g stroke="#787a81" stroke-width="0.4" stroke-linejoin="round"><text x="1856.56 1872.36 1888.16 1903.96" y="368.2" font-size="28.8" fill="#787a81">3550</text><path d="M1840.18,347.46 L1840.18,368.20 L1837.33,368.20 L1837.33,352.42 L1833.24,355.12 L1833.04,352.71 L1839.03,347.46Z" fill="#787a81"/><circle cx="1851.13" cy="366.10" r="2.10" fill="#787a81"/></g>
<g stroke="#787a81" stroke-width="0.4" stroke-linejoin="round"><text x="1856.56 1872.36 1888.16 1903.96" y="523.5" font-size="28.8" fill="#787a81">3500</text><path d="M1840.18,502.76 L1840.18,523.50 L1837.33,523.50 L1837.33,507.72 L1833.24,510.42 L1833.04,508.01 L1839.03,502.76Z" fill="#787a81"/><circle cx="1851.13" cy="521.40" r="2.10" fill="#787a81"/></g>
<g stroke="#787a81" stroke-width="0.4" stroke-linejoin="round"><text x="1856.56 1872.36 1888.16 1903.96" y="678.8" font-size="28.8" fill="#787a81">3450</text><path d="M1840.18,658.06 L1840.18,678.80 L1837.33,678.80 L1837.33,663.02 L1833.24,665.72 L1833.04,663.31 L1839.03,658.06Z" fill="#787a81"/><circle cx="1851.13" cy="676.70" r="2.10" fill="#787a81"/></g>
<g stroke="#787a81" stroke-width="0.4" stroke-linejoin="round"><text x="1856.56 1872.36 1888.16 1903.96" y="834.1" font-size="28.8" fill="#787a81">3400</text><path d="M1840.18,813.36 L1840.18,834.10 L1837.33,834.10 L1837.33,818.32 L1833.24,821.02 L1833.04,818.61 L1839.03,813.36Z" fill="#787a81"/><circle cx="1851.13" cy="832.00" r="2.10" fill="#787a81"/></g>
<g stroke="#787a81" stroke-width="0.4" stroke-linejoin="round"><text x="1856.56 1872.36 1888.16 1903.96" y="989.4" font-size="28.8" fill="#787a81">3350</text><path d="M1840.18,968.66 L1840.18,989.40 L1837.33,989.40 L1837.33,973.62 L1833.24,976.32 L1833.04,973.91 L1839.03,968.66Z" fill="#787a81"/><circle cx="1851.13" cy="987.30" r="2.10" fill="#787a81"/></g>
<g stroke="#787a81" stroke-width="0.4" stroke-linejoin="round"><text x="1856.56 1872.36 1888.16 1903.96" y="1144.7" font-size="28.8" fill="#787a81">3300</text><path d="M1840.18,1123.96 L1840.18,1144.70 L1837.33,1144.70 L1837.33,1128.92 L1833.24,1131.62 L1833.04,1129.21 L1839.03,1123.96Z" fill="#787a81"/><circle cx="1851.13" cy="1142.60" r="2.10" fill="#787a81"/></g>
<rect x="1811" y="0" width="128" height="47.6" fill="#ffffff"/>
<rect x="1816.5" y="4.4" width="115.5" height="36.6" rx="5" ry="5" fill="#ffffff" stroke="#e8e9ee" stroke-width="1.3"/>
<text x="1820.50" y="28.7" font-size="17.6" fill="#131722" textLength="32.00" lengthAdjust="spacingAndGlyphs">USD</text>
<polyline points="1918.6,20.9 1922.1,24.3 1925.6,20.9" fill="none" stroke="#131722" stroke-width="1.8" stroke-linecap="round" stroke-linejoin="round"/>
<g stroke="#787a81" stroke-width="0.4" stroke-linejoin="round"><path d="M56.06,1169.26 L56.06,1190.00 L53.21,1190.00 L53.21,1174.22 L49.12,1176.92 L48.92,1174.51 L54.91,1169.26Z M73.71,1169.26 L73.71,1190.00 L70.86,1190.00 L70.86,1174.22 L66.77,1176.92 L66.57,1174.51 L72.56,1169.26Z" fill="#787a81"/></g>
<g stroke="#787a81" stroke-width="0.4" stroke-linejoin="round"><text x="223.47" y="1190.0" font-size="28.8" fill="#787a81">7</text><path d="M216.26,1169.26 L216.26,1190.00 L213.41,1190.00 L213.41,1174.22 L209.32,1176.92 L209.12,1174.51 L215.11,1169.26Z" fill="#787a81"/></g>
<g stroke="#787a81" stroke-width="0.4" stroke-linejoin="round"><text x="366.74 382.25" y="1190.0" font-size="28.8" fill="#787a81">23</text></g>
<g stroke="#787a81" stroke-width="0.4" stroke-linejoin="round"><text x="595.83 613.51 631.19 648.86" y="1190.0" font-size="28.8" fill="#787a81" font-weight="bold">2026</text></g>
<g stroke="#787a81" stroke-width="0.4" stroke-linejoin="round"><text x="782.14" y="1190.0" font-size="28.8" fill="#787a81">8</text></g>
<g stroke="#787a81" stroke-width="0.4" stroke-linejoin="round"><text x="951.41" y="1190.0" font-size="28.8" fill="#787a81">4</text><path d="M943.70,1169.26 L943.70,1190.00 L940.84,1190.00 L940.84,1174.22 L936.75,1176.92 L936.55,1174.51 L942.54,1169.26Z" fill="#787a81"/></g>
<g stroke="#787a81" stroke-width="0.4" stroke-linejoin="round"><text x="1094.20 1111.02" y="1190.0" font-size="28.8" fill="#787a81">20</text></g>
<g stroke="#787a81" stroke-width="0.4" stroke-linejoin="round"><text x="1254.37 1270.71" y="1190.0" font-size="28.8" fill="#787a81">24</text></g>
<g stroke="#787a81" stroke-width="0.4" stroke-linejoin="round"><text x="1452.50" y="1190.0" font-size="28.8" fill="#787a81" textLength="51.00" lengthAdjust="spacingAndGlyphs">Feb</text></g>
<g stroke="#787a81" stroke-width="0.4" stroke-linejoin="round"><text x="1624.33" y="1190.0" font-size="28.8" fill="#787a81">6</text></g>
<g stroke="#787a81" stroke-width="0.4" stroke-linejoin="round"><text x="1792.18" y="1190.0" font-size="28.8" fill="#787a81">2</text><path d="M1785.72,1169.26 L1785.72,1190.00 L1782.86,1190.00 L1782.86,1174.22 L1778.77,1176.92 L1778.57,1174.51 L1784.56,1169.26Z" fill="#787a81"/></g>
<g fill="none" stroke="#131313" stroke-width="1.5" stroke-linejoin="round">
<polygon points="1864.6,1183.6 1869.9,1174.5 1880.7,1174.5 1886,1183.6 1880.7,1192.6 1869.9,1192.6"/>
<circle cx="1875.3" cy="1183.6" r="3"/>
</g>
<defs><clipPath id="uk"><circle cx="19.9" cy="26.8" r="9"/></clipPath><clipPath id="us"><circle cx="29.2" cy="17.8" r="9"/></clipPath></defs>
<g clip-path="url(#us)">
<rect x="20" y="8" width="19" height="20" fill="#ffffff"/>
<rect x="20" y="8.80" width="19" height="3.6" fill="#e9474f"/>
<rect x="20" y="16.00" width="19" height="3.6" fill="#e9474f"/>
<rect x="20" y="23.20" width="19" height="3.6" fill="#e9474f"/>
<rect x="20" y="8" width="11" height="10.8" fill="#2f7ddb"/>
<g fill="#d7ecff"><circle cx="25.3" cy="11.5" r="0.8"/><circle cx="28.6" cy="11.5" r="0.8"/><circle cx="25.3" cy="14.6" r="0.8"/><circle cx="28.6" cy="14.6" r="0.8"/><circle cx="23" cy="14.6" r="0.7"/></g>
</g>
<circle cx="19.9" cy="26.8" r="10.6" fill="#ffffff"/>
<g clip-path="url(#uk)">
<rect x="10" y="17" width="20" height="20" fill="#1d3f94"/>
<g stroke="#ffffff" stroke-width="3.4"><line x1="10.9" y1="17.8" x2="28.9" y2="35.8"/><line x1="28.9" y1="17.8" x2="10.9" y2="35.8"/></g>
<g stroke="#d8434f" stroke-width="1.1"><line x1="10.9" y1="17.8" x2="28.9" y2="35.8"/><line x1="28.9" y1="17.8" x2="10.9" y2="35.8"/></g>
<g stroke="#ffffff" stroke-width="4.6"><line x1="19.9" y1="17" x2="19.9" y2="37"/><line x1="10" y1="26.8" x2="30" y2="26.8"/></g>
<g stroke="#d8434f" stroke-width="2"><line x1="19.9" y1="17" x2="19.9" y2="37"/><line x1="10" y1="26.8" x2="30" y2="26.8"/></g>
</g>
<g stroke="#7d7f86" stroke-width="0.25" stroke-linejoin="round"><text x="43.50" y="30.8" font-size="23.8" fill="#7d7f86" textLength="69.00" lengthAdjust="spacingAndGlyphs">British</text></g>
<g stroke="#7d7f86" stroke-width="0.25" stroke-linejoin="round"><text x="119.50" y="30.8" font-size="23.8" fill="#7d7f86" textLength="65.00" lengthAdjust="spacingAndGlyphs">Pound</text></g>
<g stroke="#7d7f86" stroke-width="0.25" stroke-linejoin="round"><text x="195.50" y="30.8" font-size="23.8" fill="#7d7f86" textLength="5.00" lengthAdjust="spacingAndGlyphs">/</text></g>
<g stroke="#7d7f86" stroke-width="0.25" stroke-linejoin="round"><text x="212.50" y="30.8" font-size="23.8" fill="#7d7f86" textLength="43.00" lengthAdjust="spacingAndGlyphs">U.S.</text></g>
<g stroke="#7d7f86" stroke-width="0.25" stroke-linejoin="round"><text x="263.50" y="30.8" font-size="23.8" fill="#7d7f86" textLength="64.00" lengthAdjust="spacingAndGlyphs">Dollar</text></g>
<g stroke="#7d7f86" stroke-width="0.25" stroke-linejoin="round"><text x="346.50" y="30.8" font-size="23.8" fill="#7d7f86" textLength="26.00" lengthAdjust="spacingAndGlyphs">4h</text></g>
<circle cx="336.2" cy="24.1" r="1.5" fill="#2a2e39"/>
</svg>
</body></html>
